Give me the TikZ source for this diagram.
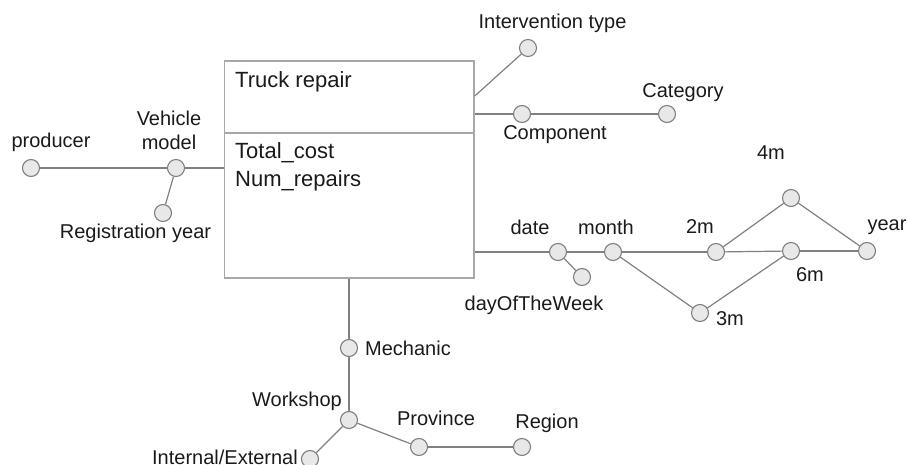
\documentclass[tikz,border=0pt]{standalone}
\usepackage{fontspec}
\setmainfont{Liberation Sans}
\definecolor{ink}{HTML}{1A1A1A}
\definecolor{attrline}{HTML}{808080}
\definecolor{attrfill}{HTML}{E8E8E8}
\definecolor{boxline}{HTML}{A8A8A8}
\begin{document}
\begin{tikzpicture}[x=1pt,y=-1pt,
  attr/.style={circle,draw=attrline,fill=attrfill,line width=1.1pt,minimum size=17pt,inner sep=0pt},
  lbl/.style={text=ink,font=\fontsize{20}{24}\selectfont,inner sep=0pt,align=center},
  boxtxt/.style={text=ink,font=\fontsize{22}{28}\selectfont,inner sep=0pt,anchor=base west},
  link/.style={draw=attrline,line width=1.2pt},
  factbox/.style={draw=boxline,line width=1.5pt,inner sep=0pt},
]
\useasboundingbox (0,0) rectangle (907,465);

% fact
\node[factbox,minimum width=249.5pt,minimum height=217pt] (fact) at (349.25,169.5) {};
\draw[boxline,line width=1.5pt] (fact.west |- 0,133) -- (fact.east |- 0,133);
\node[boxtxt] (fname) at (235,88) {Truck repair};
\node[boxtxt] (tcost) at (235,159) {Total\_cost};
\node[boxtxt] (nrep) at (235,187) {Num\_repairs};

% attributes
\node[attr] (prod) at (31,168) {};
\node[attr] (vm) at (176,168) {};
\node[attr] (reg) at (163,213) {};
\node[attr] (itype) at (528,48) {};
\node[attr] (comp) at (522,114) {};
\node[attr] (cat) at (667,114) {};
\node[attr] (date) at (558,252) {};
\node[attr] (dow) at (582,277) {};
\node[attr] (month) at (613,252) {};
\node[attr] (m2) at (716,252) {};
\node[attr] (m4) at (791,198) {};
\node[attr] (m6) at (791,251) {};
\node[attr] (m3) at (700,313) {};
\node[attr] (year) at (867,251) {};
\node[attr] (mech) at (349,348) {};
\node[attr] (work) at (349,420) {};
\node[attr] (intext) at (310,459) {};
\node[attr] (prov) at (419,447) {};
\node[attr] (region) at (522,447) {};

% labels
\node[lbl] (lprod) at (51,142) {producer};
\node[lbl] (lvm) at (169,130) {Vehicle\\model};
\node[lbl] (lreg) at (135.5,233) {Registration year};
\node[lbl] (litype) at (552.5,23) {Intervention type};
\node[lbl] (lcomp) at (555,135) {Component};
\node[lbl] (lcat) at (683,93) {Category};
\node[lbl] (ldate) at (530,227) {date};
\node[lbl] (lmonth) at (606,227) {month};
\node[lbl] (lm2) at (700,227) {2m};
\node[lbl] (lm4) at (771,153) {4m};
\node[lbl] (lm6) at (810,275) {6m};
\node[lbl] (lyear) at (887,227) {year};
\node[lbl] (lm3) at (730,319) {3m};
\node[lbl] (ldow) at (534,305) {dayOfTheWeek};
\node[lbl,anchor=west] (lmech) at (365,348) {Mechanic};
\node[lbl] (lwork) at (297,401) {Workshop};
\node[lbl] (lintext) at (225,457) {Internal/External};
\node[lbl] (lprov) at (436,418) {Province};
\node[lbl] (lregion) at (547,423) {Region};

% connectors
\coordinate (itfoot) at (fact.east |- 0,96);
\draw[link] (prod) -- (vm);
\draw[link] (vm) -- (vm -| fact.west);
\draw[link] (vm) -- (reg);
\draw[link] (itfoot) -- (itype);
\draw[link] (comp -| fact.east) -- (comp);
\draw[link] (comp) -- (cat);
\draw[link] (date -| fact.east) -- (date);
\draw[link] (date) -- (dow);
\draw[link] (date) -- (month);
\draw[link] (month) -- (m2);
\draw[link] (month) -- (m3);
\draw[link] (m2) -- (m4);
\draw[link] (m2) -- (m6);
\draw[link] (m3) -- (m6);
\draw[link] (m4) -- (year);
\draw[link] (m6) -- (year);
\draw[link] (fact.south -| mech) -- (mech);
\draw[link] (mech) -- (work);
\draw[link] (work) -- (intext);
\draw[link] (work) -- (prov);
\draw[link] (prov) -- (region);
\end{tikzpicture}
\end{document}
